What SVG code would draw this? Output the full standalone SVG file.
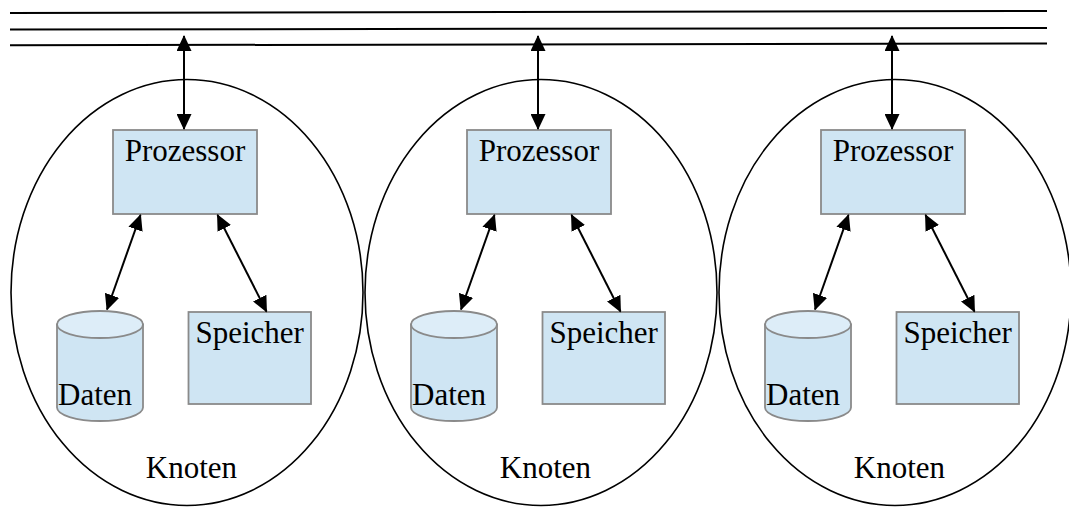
<svg xmlns="http://www.w3.org/2000/svg" width="1069" height="507" viewBox="0 0 1069 507">
<style>
.bus{stroke:#000;stroke-width:2;fill:none}
.knoten{fill:none;stroke:#000;stroke-width:1.6}
.box{fill:#cfe5f3;stroke:#8a8a8a;stroke-width:1.8}
.cyltop{fill:#ddedf8;stroke:#8a8a8a;stroke-width:1.8}
text{font-family:"Liberation Serif","Times New Roman",Times,serif;font-size:31px;fill:#000}
.c{text-anchor:middle}
.con{stroke:#000;stroke-width:2;fill:none;marker-start:url(#ah);marker-end:url(#ah)}
</style>
<defs>
<marker id="ah" markerUnits="userSpaceOnUse" markerWidth="16" markerHeight="15" refX="15" refY="7.5" orient="auto-start-reverse" viewBox="0 0 16 15">
<path d="M0,0 L16,7.5 L0,15 Z" fill="#000"/>
</marker>
</defs>
<g id="bus">
<line class="bus" x1="10" y1="13" x2="1047" y2="11"/>
<line class="bus" x1="10" y1="29.5" x2="1047" y2="28"/>
<line class="bus" x1="10" y1="45.3" x2="1047" y2="43.5"/>
</g>
<g id="node1">
<ellipse class="knoten" cx="187" cy="292.5" rx="176" ry="213"/>
<g id="prozessor1"><rect class="box" x="113" y="130" width="144" height="84"/>
<text class="c" x="185" y="161" font-family="Liberation Serif, serif">Prozessor</text></g>
<g id="daten1"><path class="box" d="M57,324.5 L57,407.5 A43,13.5 0 0 0 143,407.5 L143,324.5 Z"/>
<ellipse class="cyltop" cx="100" cy="324.5" rx="43" ry="13.5"/>
<text x="58" y="404.5" font-family="Liberation Serif, serif">Daten</text></g>
<g id="speicher1"><rect class="box" x="188.5" y="312" width="122.5" height="92"/>
<text class="c" x="249.7" y="343" font-family="Liberation Serif, serif">Speicher</text></g>
<text class="c" x="191.5" y="478" font-family="Liberation Serif, serif">Knoten</text>
</g>
<g id="node2">
<ellipse class="knoten" cx="541" cy="292.5" rx="176" ry="213"/>
<g id="prozessor2"><rect class="box" x="467" y="130" width="144" height="84"/>
<text class="c" x="539" y="161" font-family="Liberation Serif, serif">Prozessor</text></g>
<g id="daten2"><path class="box" d="M411,324.5 L411,407.5 A43,13.5 0 0 0 497,407.5 L497,324.5 Z"/>
<ellipse class="cyltop" cx="454" cy="324.5" rx="43" ry="13.5"/>
<text x="412" y="404.5" font-family="Liberation Serif, serif">Daten</text></g>
<g id="speicher2"><rect class="box" x="542.5" y="312" width="122.5" height="92"/>
<text class="c" x="603.7" y="343" font-family="Liberation Serif, serif">Speicher</text></g>
<text class="c" x="545.5" y="478" font-family="Liberation Serif, serif">Knoten</text>
</g>
<g id="node3">
<ellipse class="knoten" cx="895" cy="292.5" rx="176" ry="213"/>
<g id="prozessor3"><rect class="box" x="821" y="130" width="144" height="84"/>
<text class="c" x="893" y="161" font-family="Liberation Serif, serif">Prozessor</text></g>
<g id="daten3"><path class="box" d="M765,324.5 L765,407.5 A43,13.5 0 0 0 851,407.5 L851,324.5 Z"/>
<ellipse class="cyltop" cx="808" cy="324.5" rx="43" ry="13.5"/>
<text x="766" y="404.5" font-family="Liberation Serif, serif">Daten</text></g>
<g id="speicher3"><rect class="box" x="896.5" y="312" width="122.5" height="92"/>
<text class="c" x="957.7" y="343" font-family="Liberation Serif, serif">Speicher</text></g>
<text class="c" x="899.5" y="478" font-family="Liberation Serif, serif">Knoten</text>
</g>
<g id="connectors">
<line class="con" x1="184" y1="36" x2="184" y2="129"/>
<line class="con" x1="140.5" y1="215" x2="107" y2="309.5"/>
<line class="con" x1="217.5" y1="215" x2="266.5" y2="311.5"/>
<line class="con" x1="538" y1="36" x2="538" y2="129"/>
<line class="con" x1="494.5" y1="215" x2="461" y2="309.5"/>
<line class="con" x1="571.5" y1="215" x2="620.5" y2="311.5"/>
<line class="con" x1="892" y1="36" x2="892" y2="129"/>
<line class="con" x1="848.5" y1="215" x2="815" y2="309.5"/>
<line class="con" x1="925.5" y1="215" x2="974.5" y2="311.5"/>
</g>
</svg>
